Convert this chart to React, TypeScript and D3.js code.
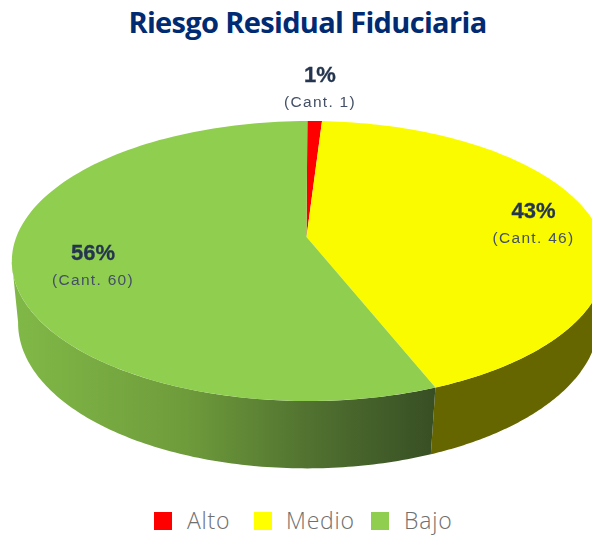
import React from "react";
import * as d3 from "d3";

const categories = ["Alto", "Medio", "Bajo"];
const counts = [1, 46, 60];
const percents = ["1%", "43%", "56%"];
const topColors = ["#ff0000", "#fbfb00", "#90ce4f"];
const legendColors = ["#ff0000", "#ffff00", "#90ce4f"];
const sideColors = ["#990000", "#666600", "url(#greenSide)"];
const labelPos: [number, number][] = [[320, 82], [533.5, 218], [93, 260]];
const legendSwatchX = [154, 254, 371];
const legendTextX = [187, 286, 404];

const W = 592, H = 535;
const k = 0.1714;
const m = 0.008;
const CX = 306.5;
const project = (a: number, R: number, Y: number, A: number, s: number): [number, number] => {
  const x = Math.sin(a), z = -Math.cos(a), w = 1 - k * z - m * x;
  return [CX + (R * x + s * z) / w, Y + (A * z) / w];
};
const top = (a: number) => project(a, 292.5, 237, 135.9, -1);
const bottom = (a: number) => project(a, 286, 297, 142, -2.5);
const line = d3.line<[number, number]>();
const steps = (a0: number, a1: number) => d3.range(0, 121).map((i) => a0 + ((a1 - a0) * i) / 120);

const arcs = d3.pie<number>().sort(null).startAngle(0).endAngle(2 * Math.PI)(counts);
const sideLimitLeft = (260 * Math.PI) / 180;
const sideLimitRight = (100 * Math.PI) / 180;

export default function App() {
  const sides = arcs.map((d, i) => {
    const a0 = Math.max(d.startAngle, sideLimitRight);
    const a1 = Math.min(d.endAngle, sideLimitLeft);
    if (a1 <= a0) return null;
    const s = steps(a0, a1);
    const pts = [...s.map(top), ...s.slice().reverse().map(bottom)];
    return <path key={i} d={(line(pts) as string) + "Z"} fill={sideColors[i]} />;
  });
  return (
    <svg width={W} height={H} style={{ position: "absolute", left: 0, top: 0 }}>
      <defs>
        <linearGradient id="greenSide" gradientUnits="userSpaceOnUse" x1="18" x2="433" y1="0" y2="0">
          <stop offset="0" stopColor="#80b847" />
          <stop offset="0.4" stopColor="#6f9c3b" />
          <stop offset="0.7" stopColor="#517230" />
          <stop offset="1" stopColor="#384f24" />
        </linearGradient>
        <filter id="soft" x="-10%" y="-10%" width="120%" height="120%">
          <feGaussianBlur stdDeviation="0.45" />
        </filter>
      </defs>
      <text x={307.5} y={33} textAnchor="middle" fontFamily="'Open Sans'" fontWeight={700} fontSize={29} letterSpacing={-0.66} fill="#002b73">
        Riesgo Residual Fiduciaria
      </text>
      {sides}
      {arcs.map((d, i) => {
        const pts: [number, number][] = [[CX, 237], ...steps(d.startAngle, d.endAngle).map(top)];
        return <path key={i} d={(line(pts) as string) + "Z"} fill={topColors[i]} />;
      })}
      <g filter="url(#soft)" textAnchor="middle" fontFamily="'Liberation Sans'">
        {labelPos.map(([x, y], i) => (
          <g key={i}>
            <text x={x} y={y} fontSize={22} fontWeight={700} fill="#25364f" stroke="#25364f" strokeWidth={0.3}>{percents[i]}</text>
            <text x={x} y={y + 25} fontSize={15.5} letterSpacing={1.3} fill="#435066">{`(Cant. ${counts[i]})`}</text>
          </g>
        ))}
      </g>
      {categories.map((c, i) => (
        <g key={c}>
          <rect x={legendSwatchX[i]} y={512} width={18} height={18} fill={legendColors[i]} />
          <text x={legendTextX[i]} y={528.5} fontFamily="'Open Sans'" fontWeight={300} fontSize={23} letterSpacing={0.8} fill="#6f6f6f">{c}</text>
        </g>
      ))}
    </svg>
  );
}
